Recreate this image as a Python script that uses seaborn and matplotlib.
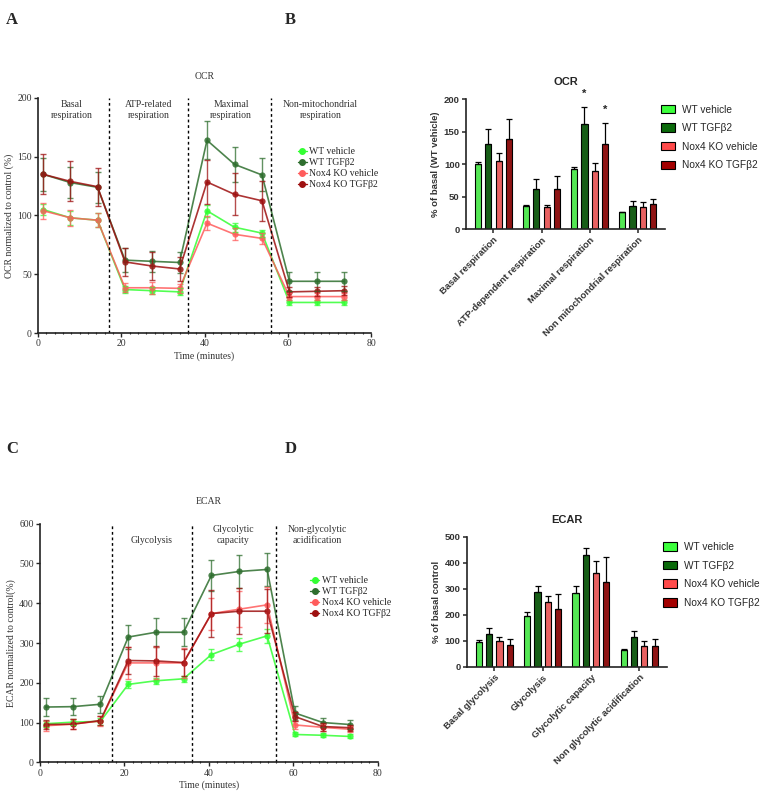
import numpy as np
import pandas as pd
import matplotlib
matplotlib.use("Agg")
import matplotlib.pyplot as plt
import seaborn as sns
from matplotlib.lines import Line2D
from matplotlib.patches import Patch
from matplotlib.ticker import MultipleLocator

# groups and colours
groups = ['WT vehicle', 'WT TGFβ2', 'Nox4 KO vehicle', 'Nox4 KO TGFβ2']
line_colors = ['#33ff33', '#2e6e2e', '#ff5c5c', '#9e1010']
bar_colors = ['#3cff3c', '#0b6a0b', '#ff4a4a', '#a30000']

time_min = [1.3, 7.8, 14.3, 20.9, 27.4, 34.0, 40.6, 47.2, 53.8, 60.4, 67.0, 73.5]
injections = [17, 36, 56]

# OCR time course (% of control)
ocr_wt_veh = [105, 98, 96, 37, 36, 35, 104, 90, 85, 26, 26, 26]
ocr_wt_veh_err = [5, 6, 6, 3, 3, 3, 5, 4, 3, 2, 2, 2]
ocr_wt_tgf = [135, 128, 124, 62, 61, 60, 164, 143.5, 134.5, 44, 44, 44]
ocr_wt_tgf_err = [14, 13, 13, 10, 9, 9, 16, 15, 14, 8, 8, 8]
ocr_ko_veh = [104, 98, 96, 38.5, 38.5, 38, 93.5, 84, 80.5, 31, 31, 31]
ocr_ko_veh_err = [7, 7, 6, 4, 5, 4, 6, 5, 5, 3, 3, 3]
ocr_ko_tgf = [135, 129, 124.5, 60.5, 57, 54.5, 128.5, 118, 112.5, 35, 35.5, 36]
ocr_ko_tgf_err = [17, 17, 16, 12, 12, 10, 19, 18, 17, 4, 4, 4]

# ECAR time course (% of control)
ecar_wt_veh = [97, 101, 103, 196, 205, 210, 271, 297, 318, 70, 68, 65]
ecar_wt_veh_err = [8, 8, 8, 8, 8, 8, 14, 16, 18, 5, 5, 5]
ecar_wt_tgf = [139, 140, 146, 315, 327, 327, 470, 480, 485, 124, 100, 95]
ecar_wt_tgf_err = [22, 21, 22, 30, 36, 35, 38, 42, 42, 17, 12, 11]
ecar_ko_veh = [92, 96, 104, 250, 250, 250, 374, 385, 396, 94, 88, 83]
ecar_ko_veh_err = [12, 12, 12, 40, 40, 38, 40, 45, 45, 10, 8, 8]
ecar_ko_tgf = [95, 96, 105, 256, 255, 251, 374, 380, 380, 115, 90, 87]
ecar_ko_tgf_err = [12, 12, 12, 35, 38, 35, 60, 58, 55, 12, 10, 8]

# OCR summary bars (% of basal WT vehicle)
ocr_cats = ['Basal respiration', 'ATP-dependent respiration',
            'Maximal respiration', 'Non mitochondrial respiration']
ocr_bar = {'WT vehicle': [100, 36, 93, 26],
           'WT TGFβ2': [132, 62, 162, 36],
           'Nox4 KO vehicle': [105, 34, 90, 34],
           'Nox4 KO TGFβ2': [139, 62, 132, 39]}
ocr_bar_err = {'WT vehicle': [4, 2, 3, 1],
               'WT TGFβ2': [22, 15, 26, 8],
               'Nox4 KO vehicle': [12, 4, 12, 8],
               'Nox4 KO TGFβ2': [30, 20, 32, 8]}

# ECAR summary bars (% of basal control)
ecar_cats = ['Basal glycolysis', 'Glycolysis', 'Glycolytic capacity',
             'Non glycolytic acidification']
ecar_bar = {'WT vehicle': [95, 197, 285, 64],
            'WT TGFβ2': [124, 289, 428, 113],
            'Nox4 KO vehicle': [100, 248, 360, 80],
            'Nox4 KO TGFβ2': [84, 223, 327, 80]}
ecar_bar_err = {'WT vehicle': [8, 15, 25, 6],
                'WT TGFβ2': [24, 23, 28, 24],
                'Nox4 KO vehicle': [14, 25, 46, 19],
                'Nox4 KO TGFβ2': [22, 58, 96, 28]}

sns.set_style("ticks")
plt.rcParams['font.family'] = ['Liberation Serif', 'DejaVu Serif']

serif = 'Liberation Serif'
sans = 'Liberation Sans'
txt_col = '#333333'


def time_course(ax, series, errors, ylim, ystep, title, ylabel, regions, leg_anchor):
    rows = []
    for g, vals in zip(groups, series):
        for t, v in zip(time_min, vals):
            rows.append({'time': t, 'value': v, 'group': g})
    df = pd.DataFrame(rows)
    sns.lineplot(data=df, x='time', y='value', hue='group', hue_order=groups,
                 palette=line_colors, marker='o', markersize=4.5, markeredgewidth=0,
                 linewidth=1.2, alpha=0.85, errorbar=None, legend=False, ax=ax)
    for g, vals, errs, c in zip(groups, series, errors, line_colors):
        ax.errorbar(time_min, vals, yerr=errs, fmt='none', ecolor=c, alpha=0.75,
                    elinewidth=1, capsize=2.5, capthick=1)
    for x in injections:
        ax.axvline(x, color='black', linestyle=(0, (2, 2)), linewidth=1)
    ax.set_xlim(0, 80)
    ax.set_ylim(*ylim)
    ax.xaxis.set_major_locator(MultipleLocator(20))
    ax.xaxis.set_minor_locator(MultipleLocator(2))
    ax.yaxis.set_major_locator(MultipleLocator(ystep))
    ax.tick_params(axis='both', which='major', length=3, width=1, labelsize=7,
                   labelcolor=txt_col, pad=1.5)
    ax.tick_params(axis='x', which='minor', length=2, width=0.8, direction='inout')
    for lab in ax.get_xticklabels() + ax.get_yticklabels():
        lab.set_family(serif)
    for s in ['left', 'bottom']:
        ax.spines[s].set_linewidth(1.2)
        ax.spines[s].set_color('#222222')
    sns.despine(ax=ax)
    ax.set_title(title, fontsize=7, family=serif, color=txt_col, pad=14)
    ax.set_xlabel('Time (minutes)', fontsize=7, family=serif, color=txt_col, labelpad=2)
    ax.set_ylabel(ylabel, fontsize=7, family=serif, color=txt_col, labelpad=2)
    for x, y, s in regions:
        ax.text(x, y, s, ha='center', va='center', fontsize=7, family=serif,
                color=txt_col, linespacing=1.25)
    handles = [Line2D([0], [0], color=c, marker='o', markersize=4, linewidth=1)
               for c in line_colors]
    ax.legend(handles, groups, loc='upper left', bbox_to_anchor=leg_anchor,
              frameon=False, fontsize=7, handlelength=0.9, handletextpad=0.3,
              labelspacing=0.2, borderpad=0, borderaxespad=0,
              prop={'family': serif, 'size': 7})


def summary_bars(ax, cats, vals, errs, ymax, ystep, title, ylabel, stars=()):
    rows = []
    for g in groups:
        for c, v in zip(cats, vals[g]):
            rows.append({'cat': c, 'value': v, 'group': g})
    df = pd.DataFrame(rows)
    sns.barplot(data=df, x='cat', y='value', hue='group', hue_order=groups,
                palette=bar_colors, width=0.85, gap=0.4, errorbar=None,
                edgecolor='black', linewidth=0.8, legend=False, ax=ax)
    for cont, g in zip(ax.containers, groups):
        for j, p in enumerate(cont.patches):
            x = p.get_x() + p.get_width() / 2
            top = p.get_height()
            ax.errorbar(x, top, yerr=[[0], [errs[g][j]]], fmt='none',
                        ecolor='black', elinewidth=0.9, capsize=2, capthick=0.9)
            if (g, j) in stars:
                ax.text(x, top + errs[g][j] + ymax * 0.1, '*', ha='center',
                        va='center', fontsize=8, family=sans, fontweight='bold')
    ax.set_ylim(0, ymax)
    ax.yaxis.set_major_locator(MultipleLocator(ystep))
    sns.despine(ax=ax)
    for s in ['left', 'bottom']:
        ax.spines[s].set_linewidth(1.2)
        ax.spines[s].set_color('#222222')
    ax.tick_params(axis='both', length=3, width=1.1, labelsize=6.8,
                   labelcolor=txt_col, pad=1.5)
    ax.set_xticks(range(len(cats)))
    ax.set_xticklabels(cats, rotation=45, ha='right', rotation_mode='anchor',
                       fontsize=6.8, family=sans, fontweight='bold', color=txt_col)
    for lab in ax.get_yticklabels():
        lab.set_family(sans)
        lab.set_fontweight('bold')
    ax.set_xlabel('')
    ax.set_ylabel(ylabel, fontsize=6.8, family=sans, fontweight='bold',
                  color=txt_col, labelpad=3)
    ax.set_title(title, fontsize=8, family=sans, fontweight='bold', pad=10)
    handles = [Patch(facecolor=c, edgecolor='black', linewidth=0.8) for c in bar_colors]
    ax.legend(handles, groups, loc='upper left', bbox_to_anchor=(0.98, 0.96),
              frameon=False, handlelength=1.4, handleheight=0.9, handletextpad=0.7,
              labelspacing=0.85, borderpad=0, borderaxespad=0,
              prop={'family': sans, 'size': 7.3})


fig = plt.figure(figsize=(7.64, 7.94), dpi=100)
axA = fig.add_axes([0.0497, 0.5806, 0.436, 0.296])
axB = fig.add_axes([0.610, 0.7112, 0.2605, 0.1637])
axC = fig.add_axes([0.0524, 0.0399, 0.442, 0.3005])
axD = fig.add_axes([0.611, 0.1603, 0.2618, 0.1637])

time_course(axA, [ocr_wt_veh, ocr_wt_tgf, ocr_ko_veh, ocr_ko_tgf],
            [ocr_wt_veh_err, ocr_wt_tgf_err, ocr_ko_veh_err, ocr_ko_tgf_err],
            (0, 200), 50, 'OCR', 'OCR normalized to control (%)',
            [(8.1, 190, 'Basal\nrespiration'), (26.5, 190, 'ATP-related\nrespiration'),
             (46.4, 190, 'Maximal\nrespiration'),
             (67.8, 190, 'Non-mitochondrial\nrespiration')],
            (0.78, 0.79))

time_course(axC, [ecar_wt_veh, ecar_wt_tgf, ecar_ko_veh, ecar_ko_tgf],
            [ecar_wt_veh_err, ecar_wt_tgf_err, ecar_ko_veh_err, ecar_ko_tgf_err],
            (0, 600), 100, 'ECAR', 'ECAR normalized to control(%)',
            [(26.5, 559, 'Glycolysis'), (45.8, 572, 'Glycolytic\ncapacity'),
             (65.6, 572, 'Non-glycolytic\nacidification')],
            (0.80, 0.78))

summary_bars(axB, ocr_cats, ocr_bar, ocr_bar_err, 200, 50, 'OCR',
             '% of basal (WT vehicle)',
             stars=[('WT TGFβ2', 2), ('Nox4 KO TGFβ2', 2)])
summary_bars(axD, ecar_cats, ecar_bar, ecar_bar_err, 500, 100, 'ECAR',
             '% of basal control')

for x, y, s in [(0.008, 0.985, 'A'), (0.373, 0.985, 'B'),
                (0.008, 0.445, 'C'), (0.373, 0.445, 'D')]:
    fig.text(x, y, s, fontsize=12, fontweight='bold', family=serif, va='top')

fig.savefig('out.png', dpi=100)
